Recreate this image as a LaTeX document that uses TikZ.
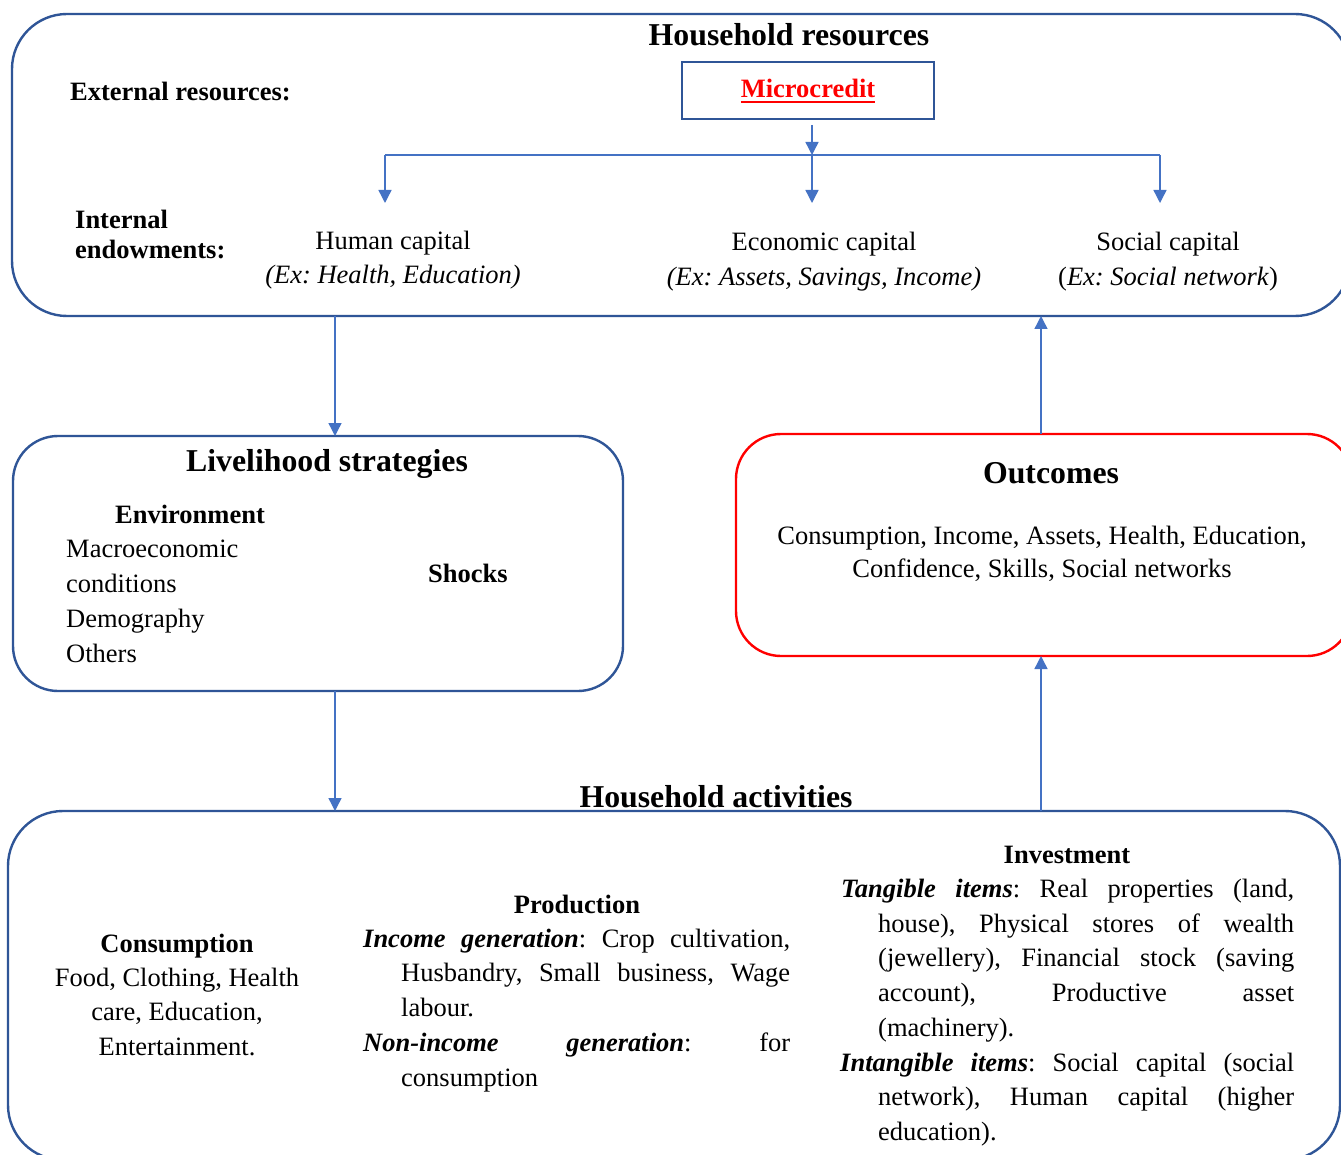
\documentclass[tikz,border=0pt]{standalone}
\usepackage{fontspec}
\setmainfont{Liberation Serif}
\usetikzlibrary{arrows.meta}
\definecolor{boxblue}{RGB}{47,85,151}
\definecolor{arrblue}{RGB}{68,114,196}
\definecolor{outred}{RGB}{255,0,0}
% thick underline for the highlighted resource
\newcommand{\thickul}[1]{\setbox0\hbox{#1}\rlap{\rule[-5.5pt]{\wd0}{2.6pt}}\box0}
\frenchspacing

\begin{document}
\begin{tikzpicture}[x=1pt,y=-1pt,
  frame/.style={draw=boxblue, line width=2.4pt, rounded corners=#1, inner sep=0pt, outer sep=0pt},
  frame/.default=55pt,
  redframe/.style={draw=outred, line width=2.4pt, rounded corners=45pt, inner sep=0pt, outer sep=0pt},
  mcbox/.style={draw=boxblue, line width=2.4pt, inner sep=0pt, outer sep=0pt},
  arr/.style={draw=arrblue, line width=1.4pt, -{Triangle[width=13pt,length=13pt]}},
  branch/.style={draw=arrblue, line width=1.4pt},
  body/.style={font=\fontsize{26.5}{34}\selectfont, inner sep=0pt, anchor=base},
  bodyl/.style={body, anchor=base west},
  sub/.style={font=\fontsize{26.5}{34}\selectfont\bfseries, inner sep=0pt, anchor=base},
  subl/.style={sub, anchor=base west},
  head/.style={font=\fontsize{31.8}{38}\selectfont\bfseries, inner sep=0pt, anchor=base},
]
\useasboundingbox (0,0) rectangle (1341,1155);
\fill[white] (0,0) rectangle (1341,1155);

% ---------- frames ----------
\node[frame, minimum width=1338pt, minimum height=302pt] (res) at (681,165) {};
\node[frame=45pt, minimum width=610pt, minimum height=255pt] (lv) at (318,563.5) {};
\node[redframe, minimum width=616pt, minimum height=222pt] (out) at (1044,545) {};
\node[frame, minimum width=1332pt, minimum height=349pt] (act) at (674,985.5) {};
\node[mcbox, minimum width=252pt, minimum height=57pt] (mc) at (808,90.5) {};

% ---------- household resources ----------
\node[head] (resT) at (789,46) {Household resources};
\node[subl] (ext) at (70,101) {External resources:};
\node[sub, text=outred] (mcT) at (808,98) {\thickul{Microcredit}};
\node[subl] (int1) at (75,229) {Internal};
\node[subl] (int2) at (75,259) {endowments:};
\node[body] (hc) at (393,250) {Human capital};
\node[body] (hcx) at (393,284) {\itshape (Ex: Health, Education)};
\node[body] (ec) at (824,251) {Economic capital};
\node[body] (ecx) at (824,286) {\itshape (Ex: Assets, Savings, Income)};
\node[body] (sc) at (1168,251) {Social capital};
\node[body] (scx) at (1168,286) {(\textit{Ex: Social network})};

% branching from microcredit
\coordinate (jL) at (385,155);
\coordinate (jR) at (1160,155);
\coordinate (jM) at (812,155);
\coordinate (tip) at (0,203);
\draw[arr] ([yshift=-6pt]mc.south -| jM) -- (jM);
\draw[branch] (jL) -- (jR);
\draw[arr] (jL) -- (jL |- tip);
\draw[arr] (jM) -- (jM |- tip);
\draw[arr] (jR) -- (jR |- tip);

% ---------- livelihood strategies ----------
\node[head] (lvT) at (327,471) {Livelihood strategies};
\node[sub] (env) at (190,523) {Environment};
\node[bodyl] (e1) at (66,557) {Macroeconomic};
\node[bodyl] (e2) at (66,592) {conditions};
\node[bodyl] (e3) at (66,627) {Demography};
\node[bodyl] (e4) at (66,662) {Others};
\node[sub] (shk) at (468,582) {Shocks};

% ---------- outcomes ----------
\node[head] (outT) at (1051,483) {Outcomes};
\node[body] (o1) at (1042,544) {Consumption, Income, Assets, Health, Education,};
\node[body] (o2) at (1042,577) {Confidence, Skills, Social networks};

% ---------- household activities ----------
\node[head] (actT) at (716,807) {Household activities};

\node[sub] (conT) at (177,952) {Consumption};
\node[body] (c1) at (177,986) {Food, Clothing, Health};
\node[body] (c2) at (177,1020.5) {care, Education,};
\node[body] (c3) at (177,1055) {Entertainment.};

\node[sub] (proT) at (577,913) {Production};
\node[bodyl] (p1) at (363,947) {\makebox[427pt][s]{\textbf{\textit{Income generation}}: Crop cultivation,}};
\node[bodyl] (p2) at (401,981.7) {\makebox[389pt][s]{Husbandry, Small business, Wage}};
\node[bodyl] (p3) at (401,1016.4) {labour.};
\node[bodyl] (p4) at (363,1051) {\makebox[427pt][s]{\textbf{\textit{Non-income generation}}: for}};
\node[bodyl] (p5) at (401,1086) {consumption};

\node[sub] (invT) at (1067,863) {Investment};
\node[bodyl] (i1) at (841,897) {\makebox[453pt][s]{\textbf{\textit{Tangible items}}: Real properties (land,}};
\node[bodyl] (i2) at (878,932) {\makebox[416pt][s]{house), Physical stores of wealth}};
\node[bodyl] (i3) at (878,966) {\makebox[416pt][s]{(jewellery), Financial stock (saving}};
\node[bodyl] (i4) at (878,1001) {\makebox[416pt][s]{account), Productive asset}};
\node[bodyl] (i5) at (878,1036) {(machinery).};
\node[bodyl] (i6) at (840,1071) {\makebox[454pt][s]{\textbf{\textit{Intangible items}}: Social capital (social}};
\node[bodyl] (i7) at (878,1105) {\makebox[416pt][s]{network), Human capital (higher}};
\node[bodyl] (i8) at (878,1140) {education).};

% ---------- flows between the blocks ----------
\coordinate (xa) at (335,0);
\coordinate (xb) at (1041,0);
\draw[arr] (res.south -| xa) -- (lv.north -| xa);
\draw[arr] (out.north -| xb) -- (res.south -| xb);
\draw[arr] (lv.south -| xa) -- (act.north -| xa);
\draw[arr] (act.north -| xb) -- (out.south -| xb);
\end{tikzpicture}
\end{document}
